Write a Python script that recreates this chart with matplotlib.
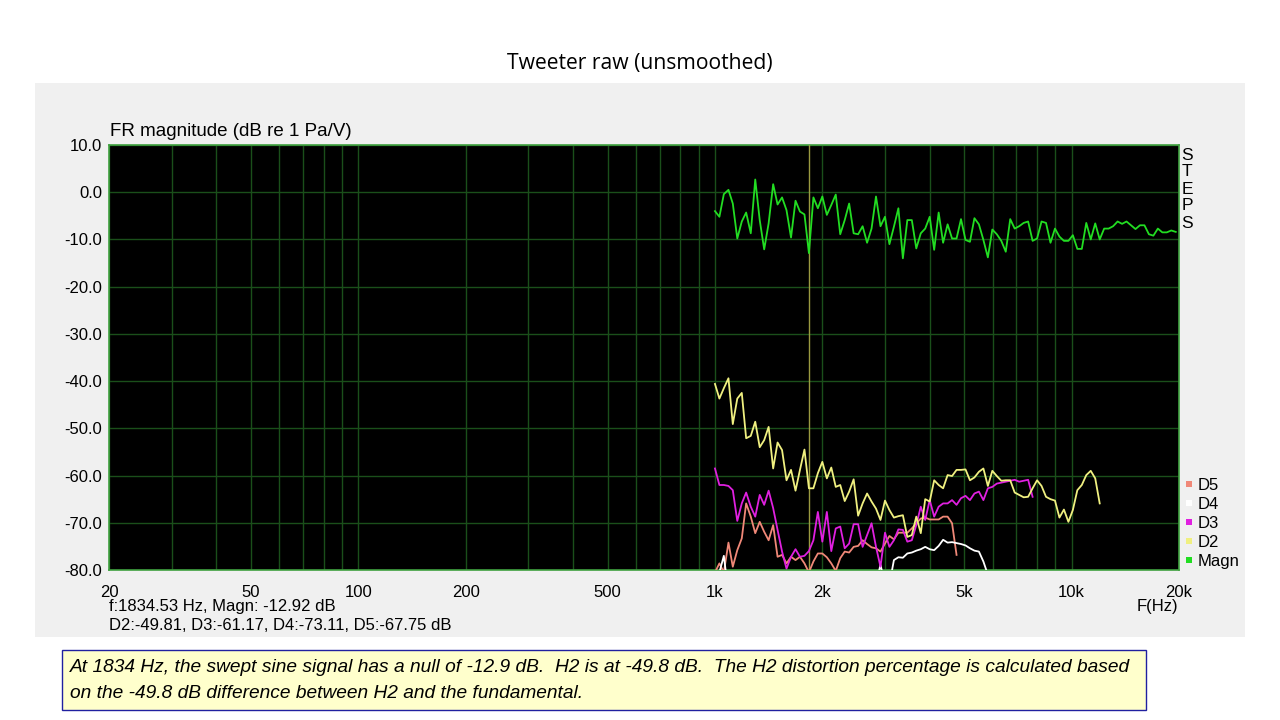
import numpy as np
import matplotlib.pyplot as plt
import matplotlib.ticker as ticker
from matplotlib.lines import Line2D
from matplotlib.patches import Rectangle

plt.rcParams['font.family'] = ['Liberation Sans', 'DejaVu Sans']

# stepped sine frequencies (1/24 octave from 1 kHz)
freq = [1000, 1029, 1059, 1091, 1122, 1155, 1189, 1223, 1260, 1297,
        1335, 1374, 1414, 1456, 1498, 1542, 1587, 1634, 1682, 1731,
        1782, 1834, 1888, 1943, 2000, 2059, 2119, 2181, 2245, 2311,
        2378, 2448, 2520, 2594, 2670, 2748, 2828, 2911, 2997, 3084,
        3175, 3268, 3364, 3462, 3564, 3668, 3776, 3886, 4000, 4117,
        4238, 4362, 4490, 4621, 4757, 4896, 5040, 5187, 5339, 5496,
        5657, 5823, 5993, 6169, 6350, 6536, 6727, 6924, 7127, 7336,
        7551, 7772, 8000, 8234, 8476, 8724, 8980, 9243, 9514, 9793,
        10079, 10375, 10679, 10992, 11314, 11646, 11987, 12338, 12699, 13071,
        13454, 13849, 14254, 14672, 15102, 15544, 16000, 16469, 16951, 17448,
        17959, 18485, 19027, 19584]

magn = [-4.0, -5.2, -0.4, 0.5, -2.4, -9.8, -6.2, -4.3, -8.7, 2.7,
        -5.9, -12.1, -6.6, 1.7, -2.6, -1.1, -3.8, -9.6, -1.8, -4.1,
        -4.7, -12.9, -1.1, -3.4, -0.9, -4.8, -2.7, -0.5, -8.9, -5.9,
        -2.4, -8.7, -8.9, -7.2, -10.7, -7.7, -0.9, -7.2, -5.2, -11.0,
        -7.3, -3.4, -14.0, -5.9, -5.9, -11.9, -8.7, -7.7, -5.2, -12.2,
        -4.3, -10.7, -6.8, -9.8, -9.8, -5.7, -10.1, -10.5, -5.5, -6.8,
        -10.1, -13.8, -7.9, -8.9, -10.3, -12.6, -5.7, -7.7, -7.2, -6.5,
        -6.2, -10.3, -9.8, -6.2, -6.5, -10.7, -7.7, -9.4, -10.3, -10.3,
        -9.1, -12.0, -12.0, -6.5, -10.0, -6.6, -10.0, -7.7, -7.7, -7.2,
        -6.2, -6.7, -6.2, -7.0, -7.8, -7.0, -7.0, -8.9, -9.2, -7.7,
        -8.5, -8.5, -8.1, -8.4]

d2 = [-40.6, -43.7, -41.5, -39.4, -49.1, -43.7, -42.5, -52.1, -51.6, -48.6,
      -54.0, -52.5, -49.7, -58.5, -53.0, -54.6, -61.0, -58.8, -63.2, -58.8,
      -54.5, -62.7, -62.7, -59.5, -57.1, -60.6, -58.3, -62.4, -62.0, -65.4,
      -63.4, -60.8, -68.5, -65.9, -63.8, -65.5, -67.0, -69.4, -65.3, -67.3,
      -68.9, -68.6, -68.4, -73.0, -72.6, -68.7, -72.2, -65.0, -65.5, -61.0,
      -62.0, -62.7, -59.9, -60.1, -58.8, -58.8, -58.7, -61.0, -60.4, -59.2,
      -58.5, -62.2, -59.0, -60.1, -61.1, -61.0, -61.0, -63.6, -64.1, -64.6,
      -64.5, -62.7, -61.0, -62.2, -64.5, -65.0, -65.3, -68.9, -67.2, -69.8,
      -67.3, -63.1, -62.0, -59.9, -59.0, -60.6, -65.9]

d3 = [-58.5, -62.0, -62.0, -62.2, -63.1, -69.6, -65.9, -63.6, -66.6, -68.7,
      -64.1, -66.2, -63.2, -66.9, -71.5, -76.1, -79.7, -77.2, -75.6, -77.2,
      -77.0, -76.0, -73.7, -67.7, -74.0, -67.7, -76.0, -71.2, -70.8, -75.4,
      -74.4, -70.3, -70.3, -75.1, -72.6, -70.1, -75.1, -79.3, -72.1, -75.1,
      -73.7, -71.4, -71.5, -74.0, -73.7, -70.5, -66.6, -69.4, -65.2, -68.7,
      -66.6, -65.9, -65.9, -65.2, -66.2, -64.8, -64.3, -65.2, -63.8, -63.4,
      -65.2, -62.7, -62.4, -61.7, -61.5, -61.3, -61.1, -60.9, -61.3, -61.1,
      -60.9, -64.5]

# D4 is mostly below the -80 dB floor: two visible pieces
d4_low = [-85.0, -80.5, -77.0, -85.0]          # from freq[0]
d4_high = [-85.0, -83.0, -78.9, -83.0, -83.0, -77.9, -77.3, -77.4, -76.5, -76.3,
           -75.9, -75.6, -75.1, -75.6, -75.8, -74.9, -73.6, -74.2, -74.1, -74.3,
           -74.5, -74.8, -75.4, -75.9, -76.1, -78.2, -81.0]   # from freq[35]
d4_high_start = 35

d5 = [-80.5, -78.6, -80.5, -74.2, -79.3, -75.8, -73.3, -65.9, -68.7, -72.2,
      -69.8, -71.9, -73.7, -70.5, -77.2, -76.8, -78.6, -77.2, -77.9, -77.2,
      -78.6, -80.5, -78.2, -76.5, -76.5, -77.3, -78.6, -80.2, -77.5, -76.1,
      -76.3, -75.1, -74.9, -73.7, -74.5, -75.2, -75.4, -76.1, -74.4, -72.8,
      -73.5, -72.1, -72.1, -72.1, -71.2, -70.1, -69.1, -68.9, -69.3, -69.3,
      -69.3, -68.7, -68.7, -70.1, -76.8]

cursor_f = 1834.53
x_major = [20, 50, 100, 200, 500, 1000, 2000, 5000, 10000, 20000]
x_major_labels = ['20', '50', '100', '200', '500', '1k', '2k', '5k', '10k', '20k']
x_minor = [30, 40, 60, 70, 80, 90, 300, 400, 600, 700, 800, 900,
           3000, 4000, 6000, 7000, 8000, 9000]

c_magn = '#22dd22'
c_d2 = '#f0f080'
c_d3 = '#e020e0'
c_d4 = '#ffffff'
c_d5 = '#f08878'

W, H = 1280, 720
fig = plt.figure(figsize=(12.8, 7.2), dpi=100, facecolor='white')

# light grey panel behind the graph
fig.patches.append(Rectangle((35 / W, 1 - 637 / H), 1210 / W, 554 / H,
                             transform=fig.transFigure, facecolor='#f0f0f0',
                             edgecolor='none', zorder=-10))

fig.text(640 / W, 1 - 64 / H, 'Tweeter raw (unsmoothed)', ha='center', va='center',
         fontsize=15.2, family=['Open Sans', 'DejaVu Sans'])

ax = fig.add_axes([109 / W, 1 - 570 / H, 1070 / W, 425 / H])
ax.set_zorder(2)
ax.set_facecolor('black')
ax.set_xscale('log')
ax.set_xlim(20, 20000)
ax.set_ylim(-80, 10)

ax.set_xticks(x_major)
ax.set_xticklabels(x_major_labels)
ax.set_xticks(x_minor, minor=True)
ax.xaxis.set_minor_formatter(ticker.NullFormatter())
ax.set_yticks(np.arange(-80, 11, 10))
ax.yaxis.set_major_formatter(ticker.FormatStrFormatter('%.1f'))
ax.tick_params(which='both', length=0, labelsize=12)
ax.tick_params(axis='x', pad=11)
ax.tick_params(axis='y', pad=5)
ax.grid(which='both', color='#1a4f1a', linewidth=1)
for s in ax.spines.values():
    s.set_color('#3fa03f')
    s.set_linewidth(1.2)

ax.axvline(cursor_f, color='#9a9a40', linewidth=1, zorder=3)

lw = 1.3
n = len(magn)
ax.plot(freq[:len(d5)], d5, color=c_d5, lw=lw, zorder=4)
ax.plot(freq[:len(d4_low)], d4_low, color=c_d4, lw=lw, zorder=4)
ax.plot(freq[d4_high_start:d4_high_start + len(d4_high)], d4_high, color=c_d4, lw=lw, zorder=4)
ax.plot(freq[:len(d3)], d3, color=c_d3, lw=lw, zorder=5)
ax.plot(freq[:len(d2)], d2, color=c_d2, lw=lw, zorder=5)
ax.plot(freq[:n], magn, color=c_magn, lw=lw, zorder=6)

# labels round the graph
fig.text(110 / W, 1 - 131 / H, 'FR magnitude (dB re 1 Pa/V)', va='center', fontsize=13.5)
for i, letter in enumerate('STEPS'):
    fig.text(1187 / W, 1 - (155 + 17 * i) / H, letter, ha='center', va='center',
             fontsize=12.5)
fig.text(1157 / W, 1 - 607 / H, 'F(Hz)', ha='center', va='center', fontsize=12)
fig.text(109 / W, 1 - 607 / H, 'f:1834.53 Hz, Magn: -12.92 dB', va='center', fontsize=12)
fig.text(109 / W, 1 - 626 / H, 'D2:-49.81, D3:-61.17, D4:-73.11, D5:-67.75 dB',
         va='center', fontsize=12)

handles = [Line2D([], [], ls='none', marker='s', markersize=5, color=c, markeredgewidth=0)
           for c in [c_d5, c_d4, c_d3, c_d2, c_magn]]
ax.legend(handles, ['D5', 'D4', 'D3', 'D2', 'Magn'], loc='lower left',
          bbox_to_anchor=(1.0, -0.01), frameon=False, fontsize=12,
          handlelength=0.6, handletextpad=0.2, labelspacing=0.25,
          borderaxespad=0.1, borderpad=0.2)

# note box under the chart
fig.patches.append(Rectangle((62 / W, 1 - 710 / H), 1084 / W, 60 / H,
                             transform=fig.transFigure, facecolor='#ffffcc',
                             edgecolor='#2020a0', linewidth=1, zorder=1))
note_font = dict(family=['Liberation Sans', 'DejaVu Sans'], style='italic',
                 fontsize=13.8, va='center', ha='left')
fig.text(70 / W, 1 - 667 / H,
         'At 1834 Hz, the swept sine signal has a null of -12.9 dB.  H2 is at -49.8 dB.  '
         'The H2 distortion percentage is calculated based', **note_font)
fig.text(70 / W, 1 - 693 / H,
         'on the -49.8 dB difference between H2 and the fundamental.', **note_font)

fig.savefig('out.png', dpi=100, facecolor=fig.get_facecolor())
